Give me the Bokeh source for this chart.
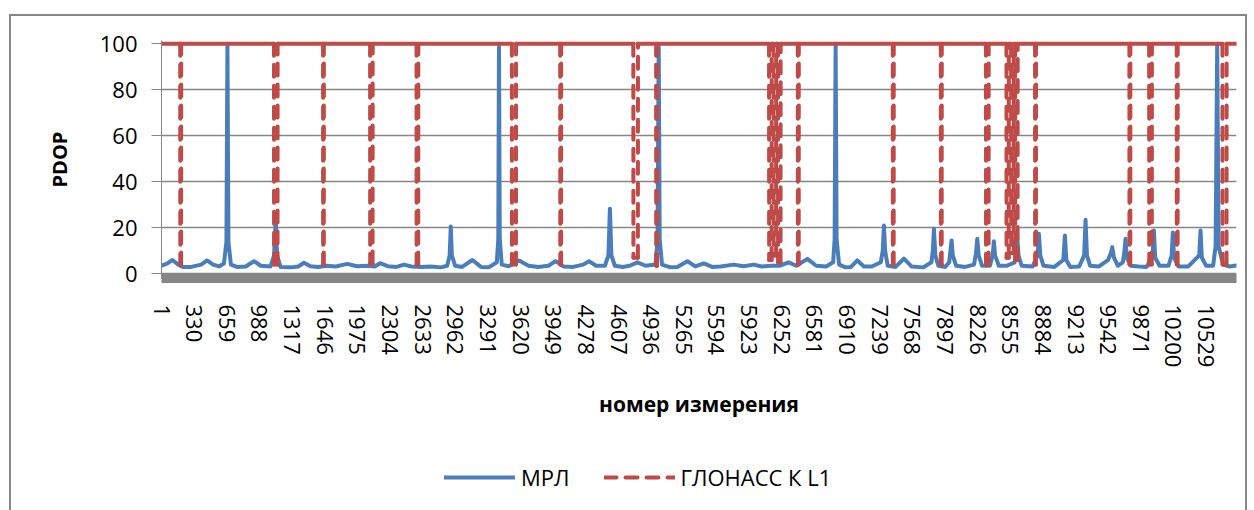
from bokeh.plotting import figure
from bokeh.layouts import column
from bokeh.models import Range1d, FixedTicker, Legend, LegendItem, ColumnDataSource
from bokeh.embed import file_html
from bokeh.resources import INLINE

# ---------------- data ----------------
N_POINTS = 10835
x_tick_labels = ["1", "330", "659", "988", "1317", "1646", "1975", "2304", "2633", "2962",
                 "3291", "3620", "3949", "4278", "4607", "4936", "5265", "5594", "5923",
                 "6252", "6581", "6910", "7239", "7568", "7897", "8226", "8555", "8884",
                 "9213", "9542", "9871", "10200", "10529"]
y_ticks = [0, 20, 40, 60, 80, 100]

mrl_idx = [1, 60, 111, 170, 215, 300, 400, 460, 520, 580, 630, 655, 665, 675, 700, 760, 850, 933,
           1000, 1100, 1135, 1152, 1165, 1200, 1300, 1380, 1437, 1500, 1580, 1666, 1757, 1874,
           1968, 2079, 2150, 2203, 2280, 2370, 2445, 2520, 2620,
           2714, 2815, 2880, 2905, 2916, 2927, 2960, 3030, 3134, 3220, 3300, 3380, 3395, 3402,
           3410, 3430, 3500, 3604, 3700, 3800, 3900, 3973, 4050, 4150, 4250, 4309, 4380, 4470,
           4505, 4520, 4535, 4570, 4650, 4720, 4797, 4880, 4980, 5000, 5012, 5022, 5045, 5130,
           5200, 5300, 5380, 5468, 5550, 5636, 5767, 5868, 5969, 6050, 6140, 6230, 6321, 6400,
           6510, 6600, 6700, 6770, 6785, 6795, 6805, 6830, 6895,
           6950, 7014, 7080, 7160, 7250, 7270, 7282, 7294, 7320, 7400, 7483, 7560, 7680, 7760,
           7775, 7786, 7800, 7830, 7900, 7940, 7952, 7964, 7976, 8010, 8100, 8190, 8210, 8223,
           8237, 8270, 8350, 8378, 8390, 8402, 8440, 8520, 8600, 8614, 8626, 8638, 8670, 8780,
           8830, 8844, 8858, 8890, 9000, 9090, 9106, 9120, 9160, 9250, 9300, 9314, 9328, 9360,
           9450, 9540, 9570, 9583, 9600, 9640, 9690, 9704, 9717, 9730, 9770, 9850, 9930, 9990,
           10003, 10016, 10060, 10150, 10182, 10194, 10206, 10250, 10350, 10460, 10473, 10486,
           10530, 10600, 10625, 10641, 10655, 10700, 10760, 10835]
mrl_pdop = [3.5, 4.5, 6.0, 4.0, 3.0, 3.0, 4.0, 5.8, 4.0, 3.2, 4.5, 14, 100, 14, 4.0, 3.0, 3.2, 5.5,
            3.5, 3.2, 8, 24, 8, 3.0, 2.8, 3.2, 4.8, 3.3, 3.0, 3.5, 3.2, 4.3,
            3.3, 3.5, 3.2, 4.6, 3.3, 3.0, 4.0, 3.2, 3.0,
            3.2, 2.8, 3.5, 8, 20.6, 8, 3.5, 3.0, 6.0, 3.0, 2.8, 5, 15, 100,
            15, 4, 3.3, 5.8, 3.5, 3.0, 3.5, 5.5, 3.2, 3.0, 4.0, 5.5, 3.5, 3.5,
            8, 28.3, 8, 3.5, 3.0, 3.5, 5.0, 3.5, 4.0, 15, 100, 15, 4.0, 2.8,
            3.0, 5.5, 3.2, 4.5, 3.0, 3.2, 4.0, 3.3, 4.0, 3.2, 3.5, 3.5, 5.0, 3.5,
            6.5, 3.5, 3.2, 5, 15, 100, 15, 4, 2.8,
            3.0, 5.8, 3.2, 3.2, 5, 10, 21, 10, 3.5, 3.0, 6.6, 3.2, 2.8, 5,
            10, 19.6, 8, 3.5, 3.0, 5, 10, 14.5, 8, 3.5, 3.0, 4, 9, 15.2,
            8, 3.5, 3.5, 8, 14.2, 8, 3.5, 3.5, 5, 10, 16, 8, 3.5, 3.2,
            8, 17.4, 8, 3.5, 3.0, 6, 16.7, 6, 3.0, 3.2, 8, 23.5, 8, 3.5,
            3.2, 6, 9, 11.6, 7, 3.5, 5, 9, 15.2, 7, 3.5, 3.2, 3.0, 8,
            18.8, 7, 3.5, 3.5, 8, 18, 7, 3.2, 3.2, 8, 18.8, 7,
            3.5, 3.5, 12, 100, 12, 4, 3.2, 3.6]

# ГЛОНАСС К L1: stays at 100 except for the drops below
glonass_top = 100
glonass_drop_start = [190, 1135, 1630, 2104, 2572, 3533, 4020, 4757, 4987, 6125, 6170, 6215,
                      6415, 7372, 7856, 8311, 8518, 8565, 8605, 8806, 9757, 9956, 10234, 10695]
glonass_drop_end = [198, 1170, 1636, 2128, 2588, 3573, 4028, 4802, 4995, 6150, 6195, 6240,
                    6423, 7380, 7864, 8337, 8540, 8590, 8629, 8814, 9765, 9982, 10242, 10735]
glonass_drop_low = [4.0, 4.0, 4.0, 4.5, 4.0, 4.0, 4.0, 7.0, 3.5, 6.0, 8.0, 5.0,
                    4.0, 4.0, 4.0, 4.0, 7.0, 9.0, 6.0, 4.0, 4.0, 4.0, 4.0, 4.0]

series_names = ["МРЛ", "ГЛОНАСС К L1"]

# ---------------- build red series key points ----------------
gx, gy = [1], [glonass_top]
for s, e, lo in zip(glonass_drop_start, glonass_drop_end, glonass_drop_low):
    gx += [s - 1, s, e, e + 1]
    gy += [glonass_top, lo, lo, glonass_top]
gx.append(N_POINTS)
gy.append(glonass_top)

flat = dict(x0=[], y0=[], x1=[], y1=[])
steep = dict(x0=[], y0=[], x1=[], y1=[])
for i in range(len(gx) - 1):
    d = flat if gy[i] == gy[i + 1] else steep
    d["x0"].append(gx[i]); d["y0"].append(gy[i])
    d["x1"].append(gx[i + 1]); d["y1"].append(gy[i + 1])

BLUE = "#4A7EBB"
RED = "#BE4B48"
GRAY = "#868686"
FONT = "Open Sans"
DASH = "12 9"

PX_PER_UNIT = 2.2997
FRAME_H = 238
y_start = -2.04
y_end = y_start + FRAME_H / PX_PER_UNIT

fig = figure(width=1234, height=434, output_backend="svg", toolbar_location=None,
             x_range=Range1d(0.5, N_POINTS + 0.5), y_range=Range1d(y_start, y_end),
             min_border_left=150, min_border_right=9, min_border_top=24, min_border_bottom=172,
             title=None)
fig.outline_line_color = None
fig.background_fill_color = "white"
fig.border_fill_color = "white"

fig.line(mrl_idx, mrl_pdop, line_color=BLUE, line_width=4, line_join="round", line_cap="round")
fig.segment(x0="x0", y0="y0", x1="x1", y1="y1", source=ColumnDataSource(flat),
            line_color=RED, line_width=4, line_cap="round")
fig.segment(x0="x0", y0="y0", x1="x1", y1="y1", source=ColumnDataSource(steep),
            line_color=RED, line_width=4, line_cap="round", line_dash=DASH)

# axes
xt = [int(s) for s in x_tick_labels]
fig.xaxis.ticker = FixedTicker(ticks=xt)
fig.xaxis.major_label_overrides = {t: s for t, s in zip(xt, x_tick_labels)}
fig.xaxis.major_label_orientation = "vertical"
fig.xaxis.major_tick_line_color = None
fig.xaxis.minor_tick_line_color = None
fig.xaxis.axis_line_color = GRAY
fig.xaxis.axis_line_width = 9
fig.xaxis.major_label_standoff = 20
fig.xaxis.major_label_text_font = FONT
fig.xaxis.major_label_text_font_size = "22px"
fig.xaxis.major_label_text_color = "black"
fig.xaxis.axis_label = "номер измерения"
fig.xaxis.axis_label_text_font = FONT
fig.xaxis.axis_label_text_font_size = "21px"
fig.xaxis.axis_label_text_font_style = "bold"
fig.xaxis.axis_label_text_color = "black"
fig.xaxis.axis_label_standoff = 20

fig.yaxis.ticker = FixedTicker(ticks=y_ticks)
fig.yaxis.major_tick_out = 10
fig.yaxis.major_tick_in = 0
fig.yaxis.major_tick_line_color = GRAY
fig.yaxis.minor_tick_line_color = None
fig.yaxis.axis_line_color = GRAY
fig.yaxis.major_label_standoff = 14
fig.yaxis.major_label_text_font = FONT
fig.yaxis.major_label_text_font_size = "22px"
fig.yaxis.major_label_text_color = "black"
fig.yaxis.axis_label = "PDOP"
fig.yaxis.axis_label_text_font = FONT
fig.yaxis.axis_label_text_font_size = "20px"
fig.yaxis.axis_label_text_font_style = "bold"
fig.yaxis.axis_label_text_color = "black"
fig.yaxis.axis_label_standoff = 24

fig.xgrid.visible = False
fig.ygrid.ticker = FixedTicker(ticks=y_ticks)
fig.ygrid.grid_line_color = GRAY
fig.ygrid.grid_line_width = 1.5

# ---------------- legend strip (same styles as the series; keys lie outside the view) ----------------
leg = figure(width=1234, height=60, output_backend="svg", toolbar_location=None,
             x_range=Range1d(0, 1), y_range=Range1d(0, 1),
             x_axis_location=None, y_axis_location=None, min_border=0, title=None)
leg.outline_line_color = None
leg.grid.visible = False
leg.background_fill_color = "white"
leg.border_fill_color = "white"
k_blue = leg.line(x=[5, 6], y=[5, 5], line_color=BLUE, line_width=4, line_cap="round")
k_red = leg.segment(x0=[5], y0=[5], x1=[6], y1=[5], line_color=RED, line_width=4,
                    line_cap="round", line_dash=DASH)
legend = Legend(items=[LegendItem(label=series_names[0], renderers=[k_blue]),
                       LegendItem(label=series_names[1], renderers=[k_red])],
                location=(283, 18), orientation="horizontal",
                border_line_color=None, background_fill_alpha=0,
                padding=0, margin=0, spacing=34, glyph_width=71, glyph_height=24,
                label_standoff=6, label_text_font=FONT, label_text_font_size="22px",
                label_text_color="black")
leg.add_layout(legend)

p = column(fig, leg, spacing=0,
           styles={"border-top": "2px solid " + GRAY, "border-left": "2px solid " + GRAY,
                   "border-right": "2px solid " + GRAY, "margin-top": "14px",
                   "margin-left": "9px"})

open("out.html", "w").write(file_html(p, INLINE))
